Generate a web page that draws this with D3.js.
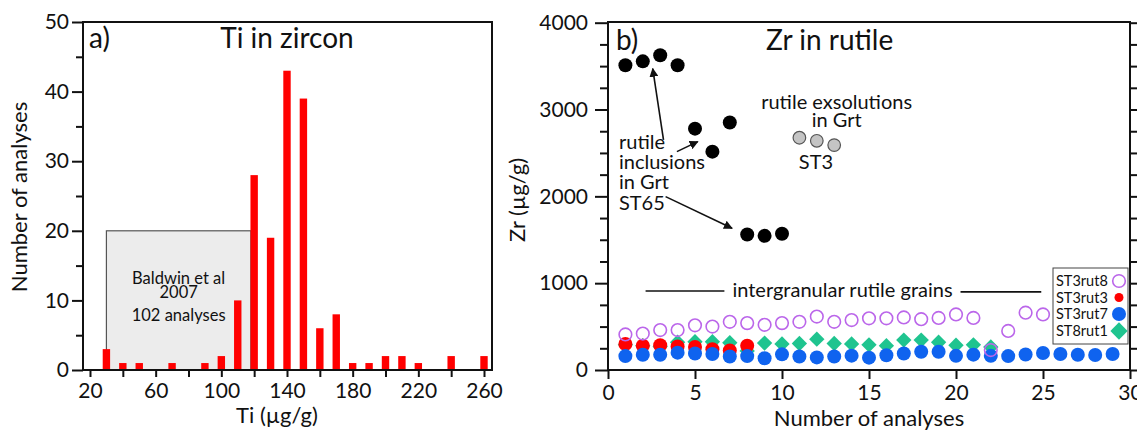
<!DOCTYPE html>
<html>
<head>
<meta charset="utf-8">
<script src="https://cdn.jsdelivr.net/npm/d3@7"></script>
<style>
  html, body { margin: 0; padding: 0; background: #fff; }
  svg { display: block; font-family: Lato, "Open Sans", sans-serif; }
</style>
</head>
<body>
<svg id="chart" width="1137" height="431"></svg>
<script>
// ---- Panel a: Ti-in-zircon histogram ----
const tiBins   = [30, 40, 50, 70, 90, 100, 110, 120, 130, 140, 150, 160, 170, 180, 190, 200, 210, 220, 240, 260];
const tiCounts = [3, 1, 1, 1, 1, 2, 10, 28, 19, 43, 39, 6, 8, 1, 1, 2, 2, 1, 2, 2];
const tiTicks      = [20, 60, 100, 140, 180, 220, 260];
const tiMinorTicks = [40, 80, 120, 160, 200, 240];
const countTicks      = [0, 10, 20, 30, 40, 50];
const countMinorTicks = [5, 15, 25, 35, 45];
// earlier study range (Ti, count)
const baldwinRange = [30, 118];
const baldwinTop   = 20;
const baldwinLines = ["Baldwin et al", "2007", "102 analyses"];

// ---- Panel b: Zr-in-rutile ----
const st65X  = [1, 2, 3, 4, 5, 6, 7, 8, 9, 10];
const st65Zr = [3510, 3555, 3625, 3510, 2780, 2515, 2850, 1560, 1545, 1570];
const st3ExsX  = [11, 12, 13];
const st3ExsZr = [2675, 2640, 2590];
const st3rut8 = [410, 420, 460, 460, 515, 500, 555, 540, 520, 540, 555, 615, 555, 575, 595, 595, 605, 585, 600, 640, 600, 230, 450, 660, 640];
const st3rut3 = [300, 280, 285, 270, 265, 240, 225, 280];
const st3rut7 = [160, 175, 175, 200, 190, 185, 155, 160, 135, 180, 155, 145, 155, 165, 142, 170, 190, 210, 210, 163, 177, 163, 160, 178, 195, 185, 175, 172, 185];
const st8rut1 = [290, 280, 270, 320, 325, 325, 315, 220, 310, 300, 305, 355, 305, 300, 290, 280, 345, 345, 320, 285, 290, 265];
const zrTicks      = [0, 1000, 2000, 3000, 4000];
const zrMinorTicks = d3.range(250, 4000, 250).filter(v => v % 1000 !== 0);
const nTicks       = [0, 5, 10, 15, 20, 25, 30];
const legendNames  = ["ST3rut8", "ST3rut3", "ST3rut7", "ST8rut1"];

const svg = d3.select("#chart");
svg.append("rect").attr("width", 1137).attr("height", 431).attr("fill", "#fff");
const ink = "#111";
const tickFs = 21, titleFs = 22, headFs = 28, annFs = 20;

// ================= Panel a =================
const A = { left: 83, right: 492, top: 22, bottom: 370 };
const xA = d3.scaleLinear().domain([15.74, 264.87]).range([A.left, A.right]);
const yA = d3.scaleLinear().domain([0, 50]).range([A.bottom, A.top]);
const gA = svg.append("g");

// grey box for previously published range
gA.append("rect")
  .attr("x", xA(baldwinRange[0])).attr("y", yA(baldwinTop))
  .attr("width", xA(baldwinRange[1]) - xA(baldwinRange[0]))
  .attr("height", yA(0) - yA(baldwinTop))
  .attr("fill", "#ececec").attr("stroke", "#555").attr("stroke-width", 1.2);

const bTextX = xA(baldwinRange[0] + (baldwinRange[1] - baldwinRange[0]) / 2);
[[12.4, 0], [10.3, 1], [7.0, 2]].forEach(([yv, i]) => {
  gA.append("text").attr("x", bTextX).attr("y", yA(yv))
    .attr("text-anchor", "middle").attr("font-size", 16.5).attr("fill", ink)
    .text(baldwinLines[i]);
});

// histogram bars
const barW = 7.4;
gA.selectAll("rect.bar").data(tiBins.map((b, i) => ({ b, c: tiCounts[i] })))
  .join("rect").attr("class", "bar")
  .attr("x", d => xA(d.b) - barW / 2)
  .attr("y", d => yA(d.c))
  .attr("width", barW)
  .attr("height", d => yA(0) - yA(d.c))
  .attr("fill", "#ff0000");

// frame
gA.append("rect").attr("x", A.left).attr("y", A.top)
  .attr("width", A.right - A.left).attr("height", A.bottom - A.top)
  .attr("fill", "none").attr("stroke", ink).attr("stroke-width", 2);

function styleAxis(g) {
  g.select(".domain").remove();
  g.selectAll(".tick line").attr("stroke", ink).attr("stroke-width", 2);
  g.selectAll(".tick text").attr("fill", ink).attr("font-size", tickFs)
    .attr("font-family", "Lato, 'Open Sans', sans-serif");
}

// axes panel a
gA.append("g").attr("transform", `translate(${A.left},0)`)
  .call(d3.axisLeft(yA).tickValues(countTicks).tickSize(11).tickPadding(3))
  .call(styleAxis);
gA.append("g").attr("transform", `translate(${A.left},0)`)
  .call(d3.axisLeft(yA).tickValues(countMinorTicks).tickSize(7).tickFormat(""))
  .call(styleAxis);
gA.append("g").attr("transform", `translate(0,${A.bottom})`)
  .call(d3.axisBottom(xA).tickValues(tiTicks).tickSize(7).tickPadding(6))
  .call(styleAxis);
gA.append("g").attr("transform", `translate(0,${A.bottom})`)
  .call(d3.axisBottom(xA).tickValues(tiMinorTicks).tickSize(7).tickFormat(""))
  .call(styleAxis);

gA.append("text").attr("x", 277).attr("y", 423)
  .attr("text-anchor", "middle").attr("font-size", titleFs).attr("fill", ink)
  .text("Ti (µg/g)");
gA.append("text").attr("transform", `translate(27,197) rotate(-90)`)
  .attr("text-anchor", "middle").attr("font-size", titleFs).attr("fill", ink)
  .text("Number of analyses");
gA.append("text").attr("x", 89).attr("y", 48).attr("font-size", headFs).attr("fill", ink).text("a)");
gA.append("text").attr("x", 287).attr("y", 48).attr("text-anchor", "middle")
  .attr("font-size", headFs).attr("fill", ink).text("Ti in zircon");

// ================= Panel b =================
const B = { left: 608, right: 1130, top: 22, bottom: 370 };
const xB = d3.scaleLinear().domain([0, 30]).range([B.left, B.right]);
const yB = d3.scaleLinear().domain([0, 4000]).range([B.bottom, B.top + 0.7]);
const gB = svg.append("g");

// frame
gB.append("rect").attr("x", B.left).attr("y", B.top)
  .attr("width", B.right - B.left).attr("height", B.bottom - B.top)
  .attr("fill", "none").attr("stroke", ink).attr("stroke-width", 2);

gB.append("g").attr("transform", `translate(${B.left},0)`)
  .call(d3.axisLeft(yB).tickValues(zrTicks).tickSize(13).tickPadding(7).tickFormat(d3.format("d")))
  .call(styleAxis);
gB.append("g").attr("transform", `translate(${B.left},0)`)
  .call(d3.axisLeft(yB).tickValues(zrMinorTicks).tickSize(8).tickFormat(""))
  .call(styleAxis);
gB.append("g").attr("transform", `translate(${B.right},0)`)
  .call(d3.axisRight(yB).tickValues(zrTicks).tickSize(13).tickFormat(""))
  .call(styleAxis);
gB.append("g").attr("transform", `translate(${B.right},0)`)
  .call(d3.axisRight(yB).tickValues(zrMinorTicks).tickSize(8).tickFormat(""))
  .call(styleAxis);
gB.append("g").attr("transform", `translate(0,${B.bottom})`)
  .call(d3.axisBottom(xB).tickValues(nTicks).tickSize(9).tickPadding(6))
  .call(styleAxis);

gB.append("text").attr("x", 869).attr("y", 426)
  .attr("text-anchor", "middle").attr("font-size", titleFs).attr("fill", ink)
  .text("Number of analyses");
gB.append("text").attr("transform", `translate(525,200) rotate(-90)`)
  .attr("text-anchor", "middle").attr("font-size", titleFs).attr("fill", ink)
  .text("Zr (µg/g)");
gB.append("text").attr("x", 616).attr("y", 50).attr("font-size", headFs).attr("fill", ink).text("b)");
gB.append("text").attr("x", 766).attr("y", 50).attr("font-size", headFs).attr("fill", ink).text("Zr in rutile");

// ST65 inclusions (black)
gB.selectAll("circle.st65").data(st65X.map((x, i) => [x, st65Zr[i]]))
  .join("circle").attr("class", "st65")
  .attr("cx", d => xB(d[0])).attr("cy", d => yB(d[1])).attr("r", 7)
  .attr("fill", "#000");

// ST3 exsolutions (grey)
gB.selectAll("circle.st3exs").data(st3ExsX.map((x, i) => [x, st3ExsZr[i]]))
  .join("circle").attr("class", "st3exs")
  .attr("cx", d => xB(d[0])).attr("cy", d => yB(d[1])).attr("r", 6.3)
  .attr("fill", "#c4c4c4").attr("stroke", "#555").attr("stroke-width", 1.2);

// intergranular grains
const green = "#1fc48f", red = "#ff0000", blue = "#0f63ef", purple = "#bb66ea";
const diamond = d3.symbol().type(d3.symbolDiamond2).size(150);
gB.selectAll("path.st8rut1").data(st8rut1.map((v, i) => [i + 1, v]))
  .join("path").attr("class", "st8rut1")
  .attr("transform", d => `translate(${xB(d[0])},${yB(d[1])})`)
  .attr("d", diamond).attr("fill", green);
gB.selectAll("circle.st3rut3").data(st3rut3.map((v, i) => [i + 1, v]))
  .join("circle").attr("class", "st3rut3")
  .attr("cx", d => xB(d[0])).attr("cy", d => yB(d[1])).attr("r", 7)
  .attr("fill", red);
gB.selectAll("circle.st3rut7").data(st3rut7.map((v, i) => [i + 1, v]))
  .join("circle").attr("class", "st3rut7")
  .attr("cx", d => xB(d[0])).attr("cy", d => yB(d[1])).attr("r", 7)
  .attr("fill", blue);
gB.selectAll("circle.st3rut8").data(st3rut8.map((v, i) => [i + 1, v]))
  .join("circle").attr("class", "st3rut8")
  .attr("cx", d => xB(d[0])).attr("cy", d => yB(d[1])).attr("r", 6.3)
  .attr("fill", "none").attr("stroke", purple).attr("stroke-width", 1.6);

// annotations
function annText(x, y, txt, anchor) {
  gB.append("text").attr("x", xB(x)).attr("y", yB(y))
    .attr("text-anchor", anchor || "start").attr("font-size", annFs).attr("fill", ink)
    .text(txt);
}
annText(0.63, 2546, "rutile");
annText(0.63, 2316, "inclusions");
annText(0.63, 2085, "in Grt");
annText(0.63, 1843, "ST65");
annText(13.14, 3007, "rutile exsolutions", "middle");
annText(13.14, 2795, "in Grt", "middle");
annText(11.95, 2316, "ST3", "middle");

svg.append("defs").append("marker")
  .attr("id", "arrow").attr("viewBox", "0 0 10 10")
  .attr("refX", 9).attr("refY", 5)
  .attr("markerWidth", 9).attr("markerHeight", 9)
  .attr("markerUnits", "userSpaceOnUse")
  .attr("orient", "auto")
  .append("path").attr("d", "M0,0 L10,5 L0,10 Z").attr("fill", ink);

const arrows = [
  [[3.19, 2650], [2.57, 3470]],
  [[3.96, 2515], [5.16, 2630]],
  [[3.31, 1997], [7.13, 1632]]
];
arrows.forEach(([s, e]) => {
  gB.append("line")
    .attr("x1", xB(s[0])).attr("y1", yB(s[1]))
    .attr("x2", xB(e[0])).attr("y2", yB(e[1]))
    .attr("stroke", ink).attr("stroke-width", 1.6)
    .attr("marker-end", "url(#arrow)");
});

// intergranular label with leader lines
gB.append("line").attr("x1", xB(2.16)).attr("x2", xB(6.69))
  .attr("y1", yB(910)).attr("y2", yB(910)).attr("stroke", ink).attr("stroke-width", 1.6);
gB.append("line").attr("x1", xB(20.26)).attr("x2", xB(24.9))
  .attr("y1", yB(900)).attr("y2", yB(900)).attr("stroke", ink).attr("stroke-width", 1.6);
annText(7.15, 841, "intergranular rutile grains");

// legend
const lg = gB.append("g");
lg.append("rect").attr("x", 1053).attr("y", 268).attr("width", 75).attr("height", 76)
  .attr("fill", "#fff").attr("stroke", "#444").attr("stroke-width", 1);
const rowsY = [281, 297.5, 314, 331];
legendNames.forEach((n, i) => {
  lg.append("text").attr("x", 1056).attr("y", rowsY[i]).attr("dy", "0.35em")
    .attr("font-size", 14.5).attr("fill", ink).text(n);
});
lg.append("circle").attr("cx", 1119).attr("cy", rowsY[0]).attr("r", 6.3)
  .attr("fill", "none").attr("stroke", purple).attr("stroke-width", 1.6);
lg.append("circle").attr("cx", 1119).attr("cy", rowsY[1]).attr("r", 4.5).attr("fill", red);
lg.append("circle").attr("cx", 1119).attr("cy", rowsY[2]).attr("r", 7).attr("fill", blue);
lg.append("path").attr("transform", `translate(1119,${rowsY[3]})`)
  .attr("d", d3.symbol().type(d3.symbolDiamond2).size(190)).attr("fill", green);
</script>
</body>
</html>
